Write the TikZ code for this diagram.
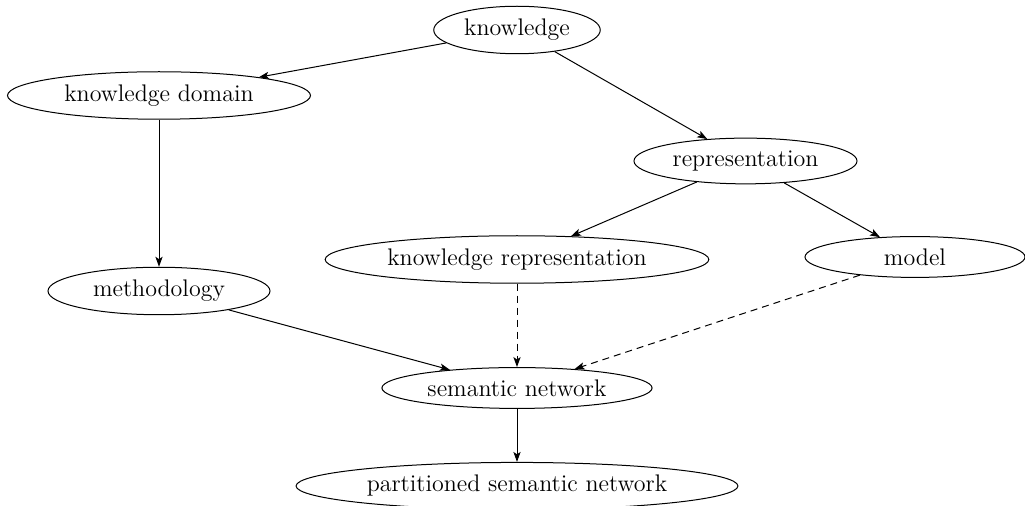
\documentclass[tikz,border=0pt]{standalone}
\usetikzlibrary{shapes.geometric,arrows.meta}
\begin{document}
\begin{tikzpicture}[x=0.5pt,y=-0.5pt,
  concept/.style={ellipse,draw,line width=0.5pt,inner sep=3pt,
    font=\fontsize{12}{14.4}\selectfont},
  link/.style={line width=0.5pt,-{Stealth[length=5pt,width=3.6pt,inset=1.2pt]}},
  weaklink/.style={link,dash pattern=on 3.5pt off 2.5pt}]
\useasboundingbox (0,0) rectangle (1025,506);
% concepts
\node[concept] (kn)    at (517,30)    {knowledge};
\node[concept,minimum width=151.5pt] (kd) at (159,95.5) {knowledge domain};
\node[concept] (rep)   at (745.5,161) {representation};
\node[concept] (kr)    at (517,259.5) {knowledge representation};
\node[concept,minimum width=110pt] (model) at (915,257) {model};
\node[concept,minimum width=111pt] (meth)  at (159,291) {methodology};
\node[concept] (sn)    at (517,388)   {semantic network};
\node[concept] (psn)   at (517,486)   {partitioned semantic network};
% relations
\draw[link] (kn) -- (kd);
\draw[link] (kn) -- (rep);
\draw[link] (kd) -- (meth);
\draw[link] (rep) -- (kr);
\draw[link] (rep) -- (model);
\draw[link] (meth) -- (sn);
\draw[weaklink] (kr) -- (sn);
\draw[weaklink] (model) -- (sn);
\draw[link] (sn) -- (psn);
\end{tikzpicture}
\end{document}
